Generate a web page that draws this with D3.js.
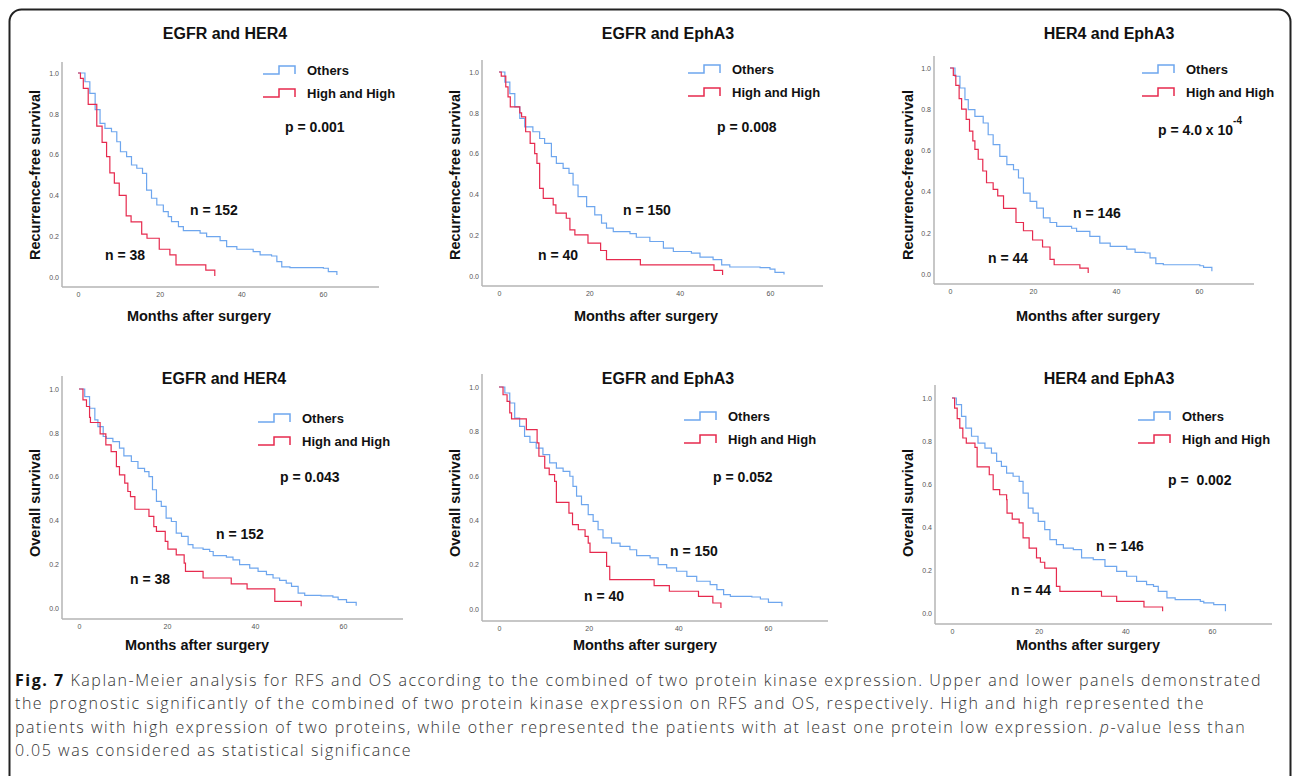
<!DOCTYPE html>
<html lang="en">
<head>
<meta charset="UTF-8">
<title>Kaplan-Meier RFS / OS</title>
<style>
  body { margin: 0; background: #fff; }
  svg { display: block; }
  .bold { font-family: "Liberation Sans", Arial, sans-serif; font-weight: bold; fill: #111; }
  .tick text { font-family: "Liberation Sans", Arial, sans-serif; font-size: 7px; fill: #555; }
</style>
<script src="https://cdn.jsdelivr.net/npm/d3@7"></script>
</head>
<body>
<script>
// ---- data: [months, survival] step points ----
const rfsEgfrHer4Others = [[0,1],[1.7,0.957],[2.9,0.9],[4.2,0.82],[5.4,0.753],[6.6,0.729],[8.2,0.712],[9.5,0.663],[10.4,0.614],[11.9,0.59],[13.1,0.549],[14.4,0.533],[15.8,0.508],[16.8,0.426],[18,0.386],[19.3,0.353],[20.9,0.32],[22.1,0.296],[22.9,0.271],[24.6,0.247],[25.8,0.227],[29.9,0.215],[31.5,0.198],[34.8,0.178],[36.4,0.149],[38.9,0.136],[42.9,0.124],[44.6,0.108],[47.4,0.103],[48.7,0.075],[49.9,0.05],[51.9,0.046],[60.1,0.043],[61.3,0.026],[63.4,0.01]];
const rfsEgfrHer4High = [[0,1],[0.6,0.974],[1.3,0.925],[2.5,0.846],[4.6,0.74],[5.9,0.66],[7,0.59],[7.8,0.51],[8.9,0.46],[10.1,0.4],[11.8,0.3],[13,0.27],[15.6,0.21],[16.9,0.19],[19.9,0.136],[22.5,0.108],[24,0.059],[31.3,0.034],[33.5,0.005]];

const rfsEgfrEpha3Others = [[0,1],[1.3,0.95],[2.4,0.894],[3.5,0.829],[4.6,0.772],[5.7,0.731],[7.5,0.707],[9,0.674],[10.1,0.65],[11.6,0.585],[12.7,0.552],[14.2,0.528],[15.5,0.503],[16.4,0.446],[17.5,0.389],[19.4,0.34],[21.2,0.3],[22.7,0.259],[23.8,0.235],[25.3,0.218],[29,0.208],[30.4,0.19],[33.4,0.169],[36.4,0.137],[38.6,0.12],[42.6,0.112],[44.5,0.093],[47.4,0.08],[49.3,0.055],[51.1,0.044],[57.8,0.041],[60,0.034],[61.1,0.018],[63.1,0.007]];
const rfsEgfrEpha3High = [[0,1],[0.5,0.98],[1.5,0.927],[2,0.878],[2.5,0.829],[4.6,0.8],[5,0.78],[5.9,0.707],[6.9,0.65],[7.9,0.6],[8.4,0.552],[9,0.43],[9.8,0.381],[12,0.349],[12.6,0.308],[14.9,0.283],[15.7,0.226],[16.8,0.202],[19.7,0.161],[22.5,0.125],[23.8,0.08],[31.3,0.055],[47.6,0.028],[49.5,0.005]];

const rfsHer4Epha3Others = [[0,1],[1.2,0.96],[2.4,0.903],[3.6,0.846],[4.4,0.798],[6,0.765],[8,0.733],[9.2,0.676],[10.4,0.628],[12,0.571],[13.7,0.531],[15.3,0.506],[16.5,0.466],[17.7,0.393],[19.3,0.353],[20.9,0.32],[22.5,0.272],[24.1,0.25],[25.7,0.231],[29.3,0.222],[30.5,0.207],[33.7,0.183],[36.1,0.15],[38.6,0.134],[42.6,0.121],[44.6,0.105],[47,0.102],[48.2,0.078],[49.6,0.05],[51.4,0.045],[60.2,0.04],[61.1,0.032],[63.1,0.013]];
const rfsHer4Epha3High = [[0,1],[0.8,0.964],[1.4,0.916],[2.2,0.851],[2.8,0.8],[3.9,0.751],[4.7,0.694],[5.5,0.646],[6,0.605],[6.8,0.557],[7.9,0.5],[8.8,0.443],[10.4,0.411],[11.5,0.379],[12.9,0.319],[15.9,0.25],[17.7,0.21],[19.9,0.165],[22.3,0.131],[24.1,0.071],[25.1,0.045],[31.3,0.029],[33.3,0.005]];

const osEgfrHer4Others = [[0,1],[1.3,0.965],[2.4,0.912],[3.6,0.859],[4.3,0.828],[5.5,0.783],[6.2,0.775],[7.7,0.76],[9.2,0.73],[10.2,0.695],[11.9,0.669],[13.4,0.638],[14.9,0.623],[15.9,0.6],[16.7,0.54],[17.6,0.487],[18.7,0.464],[19.8,0.41],[21,0.395],[22.1,0.342],[23.3,0.327],[24.8,0.289],[25.9,0.274],[28.2,0.268],[29.7,0.258],[30.5,0.239],[33.5,0.232],[35,0.22],[36.5,0.198],[38.8,0.182],[40.7,0.167],[42.6,0.152],[44.1,0.137],[45.6,0.126],[47.1,0.114],[48.3,0.099],[49.8,0.068],[51.3,0.058],[55,0.055],[57.7,0.05],[58.9,0.038],[60.8,0.026],[63,0.01]];
const osEgfrHer4High = [[0,1],[0.9,0.95],[1.7,0.92],[2.4,0.87],[2.6,0.847],[4.8,0.795],[6.1,0.745],[7.3,0.714],[8.5,0.646],[9.2,0.608],[10.4,0.57],[11.1,0.532],[11.7,0.509],[12.7,0.451],[15.9,0.418],[17,0.372],[17.6,0.35],[19.6,0.304],[20.2,0.269],[22.1,0.243],[23.9,0.205],[24.2,0.167],[28.2,0.137],[34.6,0.11],[38.2,0.087],[44.5,0.03],[50.5,0.008]];

const osEgfrEpha3Others = [[0,1],[1.3,0.973],[2.4,0.928],[3.5,0.86],[4.6,0.823],[5.7,0.778],[6.9,0.751],[8.3,0.725],[9.8,0.695],[11.3,0.658],[12.8,0.635],[14.3,0.62],[15.8,0.598],[16.5,0.552],[17.3,0.508],[18.4,0.47],[19.9,0.425],[21,0.395],[22.1,0.357],[23.2,0.32],[25.1,0.297],[27,0.282],[29.2,0.267],[30.7,0.24],[33.7,0.23],[35.5,0.2],[37.4,0.185],[39.6,0.17],[41.9,0.147],[44.1,0.125],[47.1,0.11],[48.6,0.087],[50.1,0.065],[51.6,0.057],[56.4,0.054],[58.3,0.045],[60.1,0.03],[63.1,0.012]];
const osEgfrEpha3High = [[0,1],[0.9,0.965],[1.8,0.935],[2.4,0.883],[2.8,0.856],[6.1,0.808],[8.5,0.748],[8.9,0.688],[10.2,0.635],[11.2,0.605],[12.4,0.575],[12.8,0.48],[15.6,0.432],[16.4,0.38],[17.7,0.357],[19.2,0.327],[19.9,0.297],[20.3,0.255],[24,0.192],[24.7,0.132],[34.6,0.105],[38,0.08],[44.5,0.057],[47.7,0.027],[49.5,0.005]];

const osHer4Epha3Others = [[0,1],[1,0.969],[2.2,0.915],[3.2,0.86],[4.5,0.822],[6,0.79],[7.6,0.767],[9.1,0.744],[10.3,0.705],[11.4,0.682],[12.6,0.651],[14.1,0.636],[15.5,0.612],[16.4,0.558],[17.6,0.488],[18.7,0.465],[19.9,0.426],[21.4,0.388],[22.6,0.341],[24.1,0.318],[25.7,0.302],[28,0.295],[29.9,0.256],[32.6,0.248],[35.3,0.217],[38,0.194],[40.3,0.171],[42.6,0.147],[44.9,0.132],[46.5,0.124],[47.6,0.101],[49.6,0.07],[51.5,0.062],[57.3,0.054],[58.1,0.047],[60.4,0.039],[63.1,0.008]];
const osHer4Epha3High = [[0,1],[0.6,0.953],[1.2,0.904],[1.8,0.86],[2.5,0.814],[3.3,0.79],[5.3,0.77],[5.8,0.68],[8.6,0.643],[9.5,0.574],[11,0.55],[12.6,0.527],[12.7,0.465],[13.9,0.437],[15.5,0.419],[16.4,0.349],[17.8,0.302],[19.5,0.256],[20.4,0.236],[21.4,0.209],[24.1,0.124],[24.9,0.101],[34.5,0.078],[38,0.054],[44.3,0.028],[48.6,0.008]];

const titles = ["EGFR and HER4", "EGFR and EphA3", "HER4 and EphA3", "EGFR and HER4", "EGFR and EphA3", "HER4 and EphA3"];
const yLabels = ["Recurrence-free survival", "Recurrence-free survival", "Recurrence-free survival", "Overall survival", "Overall survival", "Overall survival"];
const pValues = ["p = 0.001", "p = 0.008", "p = 4.0 x 10", "p = 0.043", "p = 0.052", "p =  0.002"];
const pExponents = ["", "", "-4", "", "", ""];
const nOthers = ["n = 152", "n = 150", "n = 146", "n = 152", "n = 150", "n = 146"];
const nHigh = ["n = 38", "n = 40", "n = 44", "n = 38", "n = 40", "n = 44"];
const seriesNames = ["Others", "High and High"];
const othersSeries = [rfsEgfrHer4Others, rfsEgfrEpha3Others, rfsHer4Epha3Others, osEgfrHer4Others, osEgfrEpha3Others, osHer4Epha3Others];
const highSeries = [rfsEgfrHer4High, rfsEgfrEpha3High, rfsHer4Epha3High, osEgfrHer4High, osEgfrEpha3High, osHer4Epha3High];
const xTicks = [0, 20, 40, 60];
const yTicks = [0, 0.2, 0.4, 0.6, 0.8, 1.0];
const xLabel = "Months after surgery";

// ---- layout of each panel (pixels) ----
const layout = [
  {x0:78,  x60:323,  y1:73,  y0:277, ax:62,  top:62,  ay:287, right:379,  title:[225,39],  ylab:[35,175],  leg:[263,70],  p:[285,132],  nO:[190,215], nH:[105,260], xl:[199,321]},
  {x0:499, x60:770,  y1:72,  y0:276, ax:482, top:60,  ay:286, right:823,  title:[668,39],  ylab:[455,175], leg:[688,69],  p:[717,132],  nO:[623,215], nH:[538,260], xl:[646,321]},
  {x0:950, x60:1199, y1:68,  y0:274, ax:934, top:56,  ay:284, right:1254, title:[1109,39], ylab:[908,175], leg:[1142,69], p:[1158,135], nO:[1073,218],nH:[988,263], xl:[1088,321]},
  {x0:79,  x60:343,  y1:389, y0:608, ax:62,  top:376, ay:619, right:403,  title:[224,384], ylab:[35,503],  leg:[258,418], p:[280,482],  nO:[216,539], nH:[130,584], xl:[197,650]},
  {x0:499, x60:768,  y1:387, y0:609, ax:482, top:374, ay:621, right:828,  title:[668,384], ylab:[455,503], leg:[684,416], p:[713,482],  nO:[670,556], nH:[584,601], xl:[645,650]},
  {x0:952, x60:1212, y1:398, y0:613, ax:935, top:385, ay:624, right:1272, title:[1109,384],ylab:[908,503], leg:[1138,416],p:[1168,485], nO:[1096,551],nH:[1011,595], xl:[1088,650]}
];

const blue = "#6ea6ee";
const red = "#e62a4e";

const width = 1292, height = 776;
const svg = d3.select("body").append("svg")
  .attr("width", width)
  .attr("height", height);

// outer frame
svg.append("rect")
  .attr("x", 9.5).attr("y", 9.5)
  .attr("width", 1281).attr("height", 820)
  .attr("rx", 12)
  .attr("fill", "none")
  .attr("stroke", "#222")
  .attr("stroke-width", 2);

layout.forEach(function(L, i) {
  const g = svg.append("g");
  const x = d3.scaleLinear().domain([0, 60]).range([L.x0, L.x60]);
  const y = d3.scaleLinear().domain([0, 1]).range([L.y0, L.y1]);

  // axis frame lines
  g.append("line").attr("x1", L.ax).attr("x2", L.ax).attr("y1", L.top).attr("y2", L.ay)
    .attr("stroke", "#b5b5b5").attr("stroke-width", 1.5);
  g.append("line").attr("x1", L.ax).attr("x2", L.right).attr("y1", L.ay).attr("y2", L.ay)
    .attr("stroke", "#b5b5b5").attr("stroke-width", 1.5);

  // ticks
  const xa = g.append("g").attr("transform", "translate(0," + L.ay + ")")
    .call(d3.axisBottom(x).tickValues(xTicks).tickSize(0).tickPadding(5));
  xa.select(".domain").remove();
  const ya = g.append("g").attr("transform", "translate(" + (L.ax - 3) + ",0)")
    .call(d3.axisLeft(y).tickValues(yTicks).tickFormat(d3.format(".1f")).tickSize(0).tickPadding(0));
  ya.select(".domain").remove();

  // curves
  const line = d3.line()
    .x(d => x(d[0]))
    .y(d => y(d[1]))
    .curve(d3.curveStepAfter);
  g.append("path").attr("d", line(othersSeries[i]))
    .attr("fill", "none").attr("stroke", blue).attr("stroke-width", 1.2);
  g.append("path").attr("d", line(highSeries[i]))
    .attr("fill", "none").attr("stroke", red).attr("stroke-width", 1.2);

  // title and axis labels
  g.append("text").attr("class", "bold").attr("x", L.title[0]).attr("y", L.title[1])
    .attr("text-anchor", "middle").attr("font-size", 16).text(titles[i]);
  g.append("text").attr("class", "bold").attr("x", L.xl[0]).attr("y", L.xl[1])
    .attr("text-anchor", "middle").attr("font-size", 14.5).text(xLabel);
  g.append("text").attr("class", "bold")
    .attr("transform", "translate(" + L.ylab[0] + "," + L.ylab[1] + ") rotate(-90)")
    .attr("text-anchor", "middle").attr("dominant-baseline", "central")
    .attr("font-size", 14.5).text(yLabels[i]);

  // legend
  [blue, red].forEach(function(c, k) {
    const ly = L.leg[1] + k * 23;
    const lx = L.leg[0];
    g.append("path")
      .attr("d", "M" + lx + "," + (ly + 4) + "H" + (lx + 16) + "V" + (ly - 4) + "H" + (lx + 32) + "V" + (ly + 4))
      .attr("fill", "none").attr("stroke", c).attr("stroke-width", 1.5);
    g.append("text").attr("class", "bold").attr("x", lx + 44).attr("y", ly + 5)
      .attr("font-size", 13).text(seriesNames[k]);
  });

  // p value
  const pt = g.append("text").attr("class", "bold").attr("x", L.p[0]).attr("y", L.p[1])
    .attr("font-size", 14).attr("xml:space", "preserve").style("white-space", "pre").text(pValues[i]);
  if (pExponents[i]) {
    pt.append("tspan").attr("dy", -11).attr("font-size", 10).text(pExponents[i]);
  }

  // group sizes
  g.append("text").attr("class", "bold").attr("x", L.nO[0]).attr("y", L.nO[1])
    .attr("font-size", 14).text(nOthers[i]);
  g.append("text").attr("class", "bold").attr("x", L.nH[0]).attr("y", L.nH[1])
    .attr("font-size", 14).text(nHigh[i]);
});

// caption, one text per line so the lines break where the figure's do
const captionLines = [
  "<tspan font-weight='700' fill='#111'>Fig. 7</tspan> Kaplan-Meier analysis for RFS and OS according to the combined of two protein kinase expression. Upper and lower panels demonstrated",
  "the prognostic significantly of the combined of two protein kinase expression on RFS and OS, respectively. High and high represented the",
  "patients with high expression of two proteins, while other represented the patients with at least one protein low expression. <tspan font-style='italic'>p</tspan>-value less than",
  "0.05 was considered as statistical significance"
];
const captionY = [686, 709, 733, 756];

const cap = svg.append("g")
  .attr("font-family", "'Open Sans', 'Noto Sans', sans-serif")
  .attr("font-weight", 300)
  .attr("font-size", 16)
  .attr("fill", "#333");
const capTexts = captionLines.map(function(s, j) {
  return cap.append("text").attr("x", 15).attr("y", captionY[j]).html(s);
});
// stretch the letter spacing so the first line spans the same width as in the figure
const w0 = capTexts[0].node().getComputedTextLength();
const ls = (1247 - w0) / captionLines[0].replace(/<[^>]+>/g, "").length;
capTexts.forEach(t => t.attr("letter-spacing", ls));
</script>
</body>
</html>
